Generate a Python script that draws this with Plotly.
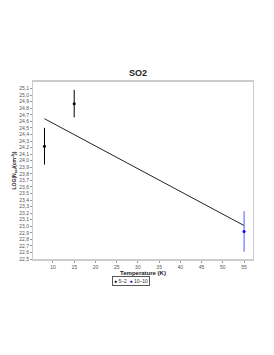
import plotly.graph_objects as go

temps_a = [8]
temps_b = [15]
temps_c = [55]
logN_a = [24.22]
logN_b = [24.87]
logN_c = [22.92]
err_a = [0.28]
err_b = [0.21]
err_c = [0.31]
fit_x = [8, 55]
fit_y = [24.64, 23.01]
series_names = ["5–2", "10–10"]
series_colors = ["black", "blue"]
yticks = [round(22.5 + 0.1 * i, 1) for i in range(27)]
ytick_text = [f"{v:.1f}".replace(".", ",") for v in yticks]
xticks = [10, 15, 20, 25, 30, 35, 40, 45, 50, 55]

fig = go.Figure()
fig.add_trace(go.Scatter(x=fit_x, y=fit_y, mode="lines", line=dict(color="#222222", width=1),
                         showlegend=False, hoverinfo="skip"))
fig.add_trace(go.Scatter(x=temps_a + temps_b, y=logN_a + logN_b, mode="markers", name=series_names[0],
                         marker=dict(color=series_colors[0], size=3), showlegend=False,
                         error_y=dict(type="data", array=err_a + err_b, color="black", thickness=1, width=0)))
fig.add_trace(go.Scatter(x=temps_c, y=logN_c, mode="markers", name=series_names[1],
                         marker=dict(color=series_colors[1], size=3), showlegend=False,
                         error_y=dict(type="data", array=err_c, color="#5555ff", thickness=1, width=0)))

legend_text = "  ".join(
    f"<span style='color:{c}'>●</span> {n}" for n, c in zip(series_names, series_colors)
)
fig.add_annotation(text=legend_text, xref="paper", yref="paper", x=0.445, y=-0.122,
                   xanchor="center", yanchor="middle", showarrow=False,
                   font=dict(size=5, color="#333333"), bordercolor="#555555", borderwidth=1,
                   borderpad=1, bgcolor="white")

fig.update_layout(
    width=274, height=355,
    paper_bgcolor="white", plot_bgcolor="white",
    margin=dict(l=25, r=29, t=74, b=104, autoexpand=False),
    font=dict(family="Liberation Sans, Arial, sans-serif", size=5, color="#555555"),
    title=dict(text="<b>SO2</b>", xref="paper", x=0.477, xanchor="center", y=1 - 65 / 355, yanchor="middle",
               font=dict(size=9, color="#222222")),
    showlegend=False,
    xaxis=dict(range=[5.3, 57.1], tickvals=xticks, showgrid=False, zeroline=False,
               showline=True, linecolor="#cccccc", linewidth=2, mirror=True,
               ticks="outside", ticklen=2, tickcolor="#999999", tickfont=dict(size=5),
               title=dict(text="<b>Temperature (K)</b>", font=dict(size=6, color="#222222"), standoff=1)),
    yaxis=dict(range=[22.5, 25.2], tickvals=yticks, ticktext=ytick_text, showgrid=False, zeroline=False,
               showline=True, linecolor="#cccccc", linewidth=1, mirror=True,
               ticks="outside", ticklen=2, tickcolor="#999999", tickfont=dict(size=5),
               title=dict(text="<b>LOG(N<sub>col</sub>/(cm<sup>-2</sup>))</b>", font=dict(size=5, color="#222222"), standoff=2)),
)
fig.write_html("out.html")
